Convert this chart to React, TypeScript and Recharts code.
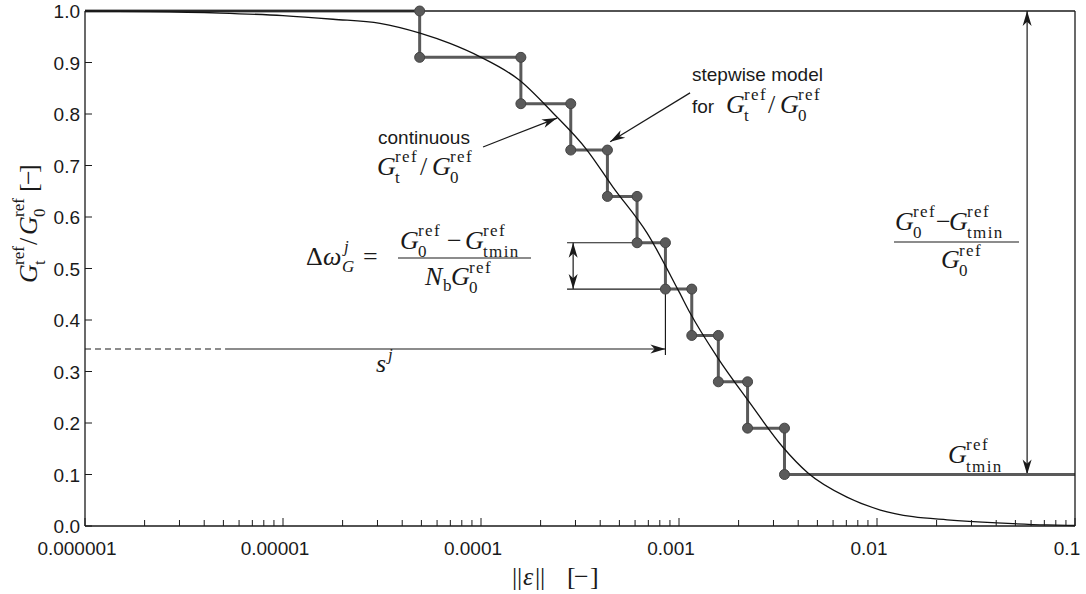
import React from "react"
import {
  ComposedChart,
  Line,
  Scatter,
  XAxis,
  YAxis,
  ReferenceLine,
} from "recharts"

// continuous curve G_t/G_0
const curveStrain = [
  1e-6, 2.13e-6, 4.8e-6, 1e-5, 1.79e-5, 3.09e-5, 4.92e-5, 6.97e-5, 9.9e-5, 1.56e-4, 2.31e-4,
  3.43e-4, 4.64e-4, 6.89e-4, 1.0e-3, 1.14e-3, 1.56e-3, 2.28e-3, 3.35e-3, 4.48e-3, 7.05e-3,
  1.04e-2, 1.52e-2, 2.26e-2, 4.04e-2, 7.22e-2, 0.1,
]
const curveRatio = [
  1.0, 0.999, 0.996, 0.991, 0.984, 0.976, 0.957, 0.937, 0.911, 0.866, 0.802, 0.73, 0.658, 0.569,
  0.455, 0.413, 0.328, 0.239, 0.153, 0.103, 0.056, 0.031, 0.018, 0.012, 0.006, 0.002, 0.001,
]

// stepwise model: breakpoints and levels
const stepStrain = [1e-6, 4.9e-5, 1.59e-4, 2.84e-4, 4.35e-4, 6.14e-4, 8.54e-4, 1.16e-3, 1.58e-3, 2.22e-3, 3.41e-3, 0.1]
const stepRatio = [1.0, 0.91, 0.82, 0.73, 0.64, 0.55, 0.46, 0.37, 0.28, 0.19, 0.1, 0.1]

// axes
const xMajor = [1e-6, 1e-5, 1e-4, 1e-3, 1e-2, 1e-1]
const xMajorLabels = ["0.000001", "0.00001", "0.0001", "0.001", "0.01", "0.1"]
const yTicks = [0, 0.1, 0.2, 0.3, 0.4, 0.5, 0.6, 0.7, 0.8, 0.9, 1.0]
const yTickLabels = ["0.0", "0.1", "0.2", "0.3", "0.4", "0.5", "0.6", "0.7", "0.8", "0.9", "1.0"]

// annotation anchors in data units
const deltaLeft = 2.72e-4
const deltaArrowX = 2.92e-4
const sjY = 0.3437
const sjDashEnd = 5.1e-6
const sjLeaderBottom = 0.332
const rangeArrowX = 0.0573
const stepArrow = [{ x: 1.137e-3, y: 0.841 }, { x: 4.49e-4, y: 0.746 }]
const contArrow = [{ x: 1.024e-4, y: 0.736 }, { x: 2.42e-4, y: 0.792 }]

const curveData = curveStrain.map((x, i) => ({ x, y: curveRatio[i] }))
const stepData = stepStrain.map((x, i) => ({ x, y: stepRatio[i] }))
const dotData = stepStrain.slice(1, -1).flatMap((x, i) => [
  { x, y: stepRatio[i] },
  { x, y: stepRatio[i + 1] },
])
const xMinor = xMajor.slice(0, -1).flatMap((d) => [2, 3, 4, 5, 6, 7, 8, 9].map((m) => m * d))
const xTicks = [...xMajor, ...xMinor].sort((a, b) => a - b)

const SANS = "'Liberation Sans', Arial, Helvetica, sans-serif"
const SERIF = "'Liberation Serif', 'Times New Roman', serif"
const INK = "#1a1a1a"
const STEP = "#5a5a5a"

function head(x1: number, y1: number, x2: number, y2: number, len = 15, half = 4.5) {
  const d = Math.hypot(x2 - x1, y2 - y1) || 1
  const ux = (x2 - x1) / d
  const uy = (y2 - y1) / d
  const bx = x2 - ux * len
  const by = y2 - uy * len
  const mx = x2 - ux * len * 0.72
  const my = y2 - uy * len * 0.72
  return `M${x2},${y2}L${bx - uy * half},${by + ux * half}L${mx},${my}L${bx + uy * half},${by - ux * half}Z`
}

const arrow = (both: boolean) => (p: any) => (
  <g>
    <line x1={p.x1} y1={p.y1} x2={p.x2} y2={p.y2} stroke={INK} strokeWidth={1.2} />
    <path d={head(p.x1, p.y1, p.x2, p.y2)} fill={INK} />
    {both && <path d={head(p.x2, p.y2, p.x1, p.y1)} fill={INK} />}
  </g>
)

const BottomTick = (p: any) => {
  const v = p.payload.value
  const k = xMajor.findIndex((m) => Math.abs(m - v) / m < 1e-6)
  if (k < 0) return <line x1={p.x} x2={p.x} y1={p.y} y2={p.y - 6} stroke={INK} />
  return (
    <g>
      <line x1={p.x} x2={p.x} y1={p.y} y2={p.y - 8} stroke={INK} />
      <text x={p.x - 8} y={p.y + 29} textAnchor="middle" fontFamily={SANS} fontSize={19} fill={INK}>
        {xMajorLabels[k]}
      </text>
    </g>
  )
}

const LeftTick = (p: any) => {
  const k = yTicks.findIndex((t) => Math.abs(t - p.payload.value) < 1e-9)
  return (
    <g>
      <line x1={p.x} x2={p.x + 7} y1={p.y} y2={p.y} stroke={INK} />
      <text x={p.x - 5} y={p.y + 7} textAnchor="end" fontFamily={SANS} fontSize={19} fill={INK}>
        {yTickLabels[k]}
      </text>
    </g>
  )
}

const RightTick = (p: any) => <line x1={p.x} x2={p.x - 8} y1={p.y} y2={p.y} stroke={INK} />

type Run = [string, number, number, number?, boolean?, number?]
const runs = (list: Run[]) =>
  list.map(([t, x, y, s = 26, it = false, ls = 0], i) => (
    <text
      key={i}
      x={x}
      y={y}
      fontFamily={SERIF}
      fontSize={s}
      fontStyle={it ? "italic" : "normal"}
      letterSpacing={ls}
      fill={INK}
    >
      {t}
    </text>
  ))

// G^ref_sub at (x, y)
const gref = (x: number, y: number, sub: string, up = 13, down = 8, ls = 1.4): Run[] => [
  ["G", x, y, 26, true],
  ["ref", x + 18, y - up, 17, false, ls],
  [sub, x + 18, y + down, 17, false, ls],
]

const Annotations = () => (
  <g>
    <text x={692} y={81} fontFamily={SANS} fontSize={19} fill={INK}>stepwise model</text>
    <text x={692} y={113} fontFamily={SANS} fontSize={19} fill={INK}>for</text>
    {runs([...gref(726, 113, "t"), ["/", 768, 113], ...gref(780, 113, "0")])}

    <text x={378} y={144} fontFamily={SANS} fontSize={19} fill={INK}>continuous</text>
    {runs([...gref(377, 175, "t"), ["/", 420, 175], ...gref(432, 175, "0")])}

    {runs([
      ["Δ", 306, 265],
      ["ω", 323, 265, 26, true],
      ["j", 344, 252, 17, true],
      ["G", 342, 272, 17, true],
      ["=", 363, 265],
      ...gref(400, 249, "0"),
      ["−", 447, 249],
      ...gref(465, 249, "tmin"),
      ["N", 425, 285, 26, true],
      ["b", 443, 291, 17],
      ...gref(451, 285, "0", 12, 8),
    ])}
    <line x1={398} x2={531} y1={258} y2={258} stroke={INK} strokeWidth={1.2} />

    {runs([["s", 376, 372, 26, true], ["j", 388, 360, 17, true]])}

    {runs([...gref(895, 230, "0"), ["−", 936, 230], ...gref(949, 230, "tmin"), ...gref(941, 268, "0", 12, 8)])}
    <line x1={894} x2={1019} y1={242} y2={242} stroke={INK} strokeWidth={1.2} />

    {runs(gref(948, 463, "tmin", 13, 9))}

    <g transform="translate(37,283) rotate(-90)">
      {runs([
        ...gref(0, 0, "t", 13, 8, 0),
        ["/", 38, 0],
        ...gref(48, 0, "0", 13, 8, 0),
        ["[", 91, 0],
        ["−", 98, 0],
        ["]", 110, 0],
      ])}
    </g>

    {runs([
      ["|", 512, 585],
      ["|", 517, 585],
      ["ε", 523, 585, 26, true],
      ["|", 535, 585],
      ["|", 540, 585],
      ["[", 567, 585],
      ["−", 574, 585],
      ["]", 590, 585],
    ])}
  </g>
)

export default function App() {
  const ids = { xAxisId: "b", yAxisId: "l" }
  return (
    <div style={{ position: "absolute", left: 0, top: 0, background: "#fff" }}>
      <ComposedChart width={1086} height={594} margin={{ top: 0, right: 0, bottom: 0, left: 0 }}>
        <XAxis
          xAxisId="b"
          type="number"
          dataKey="x"
          scale="log"
          domain={[1e-6, 0.1]}
          allowDataOverflow
          ticks={xTicks}
          interval={0}
          tick={<BottomTick />}
          tickLine={false}
          tickSize={0}
          tickMargin={0}
          height={68}
          axisLine={{ stroke: INK, strokeWidth: 1.3 }}
        />
        <XAxis
          xAxisId="t"
          orientation="top"
          type="number"
          scale="log"
          domain={[1e-6, 0.1]}
          allowDataOverflow
          tick={false}
          tickLine={false}
          height={11}
          axisLine={{ stroke: INK, strokeWidth: 1.3 }}
        />
        <YAxis
          yAxisId="l"
          type="number"
          dataKey="y"
          domain={[0, 1]}
          ticks={yTicks}
          interval={0}
          tick={<LeftTick />}
          tickLine={false}
          tickSize={0}
          tickMargin={0}
          width={85}
          axisLine={{ stroke: INK, strokeWidth: 1.3 }}
        />
        <YAxis
          yAxisId="r"
          orientation="right"
          type="number"
          domain={[0, 1]}
          ticks={yTicks.slice(1, -1)}
          interval={0}
          tick={<RightTick />}
          tickLine={false}
          tickSize={0}
          tickMargin={0}
          width={11}
          axisLine={{ stroke: INK, strokeWidth: 1.3 }}
        />

        {/* annotation leaders */}
        <ReferenceLine {...ids} ifOverflow="visible" segment={[{ x: deltaLeft, y: stepRatio[5] }, { x: stepStrain[5], y: stepRatio[5] }]} stroke={INK} strokeWidth={1.2} />
        <ReferenceLine {...ids} ifOverflow="visible" segment={[{ x: deltaLeft, y: stepRatio[6] }, { x: stepStrain[6], y: stepRatio[6] }]} stroke={INK} strokeWidth={1.2} />
        <ReferenceLine {...ids} ifOverflow="visible" segment={[{ x: stepStrain[6], y: stepRatio[6] }, { x: stepStrain[6], y: sjLeaderBottom }]} stroke={INK} strokeWidth={1.2} />
        <ReferenceLine {...ids} ifOverflow="visible" segment={[{ x: stepStrain[0], y: sjY }, { x: sjDashEnd, y: sjY }]} stroke={INK} strokeWidth={1.2} strokeDasharray="6 4" />
        <ReferenceLine {...ids} ifOverflow="visible" segment={[{ x: sjDashEnd, y: sjY }, { x: stepStrain[6], y: sjY }]} shape={arrow(false)} />
        <ReferenceLine {...ids} ifOverflow="visible" segment={[{ x: deltaArrowX, y: stepRatio[6] }, { x: deltaArrowX, y: stepRatio[5] }]} shape={arrow(true)} />
        <ReferenceLine {...ids} ifOverflow="visible" segment={[{ x: rangeArrowX, y: stepRatio[10] }, { x: rangeArrowX, y: stepRatio[0] }]} shape={arrow(true)} />
        <ReferenceLine {...ids} ifOverflow="visible" segment={stepArrow} shape={arrow(false)} />
        <ReferenceLine {...ids} ifOverflow="visible" segment={contArrow} shape={arrow(false)} />

        <Line
          {...ids}
          data={stepData}
          dataKey="y"
          type="stepAfter"
          stroke={STEP}
          strokeWidth={3}
          dot={false}
          activeDot={false}
          isAnimationActive={false}
        />
        <Scatter
          {...ids}
          data={dotData}
          dataKey="y"
          isAnimationActive={false}
          shape={(p: any) => <circle cx={p.cx} cy={p.cy} r={5} fill={STEP} stroke="#444" strokeWidth={1} />}
        />
        <Line
          {...ids}
          data={curveData}
          dataKey="y"
          type="monotone"
          stroke="#111"
          strokeWidth={1.3}
          dot={false}
          activeDot={false}
          isAnimationActive={false}
        />
        <Annotations />
      </ComposedChart>
    </div>
  )
}
